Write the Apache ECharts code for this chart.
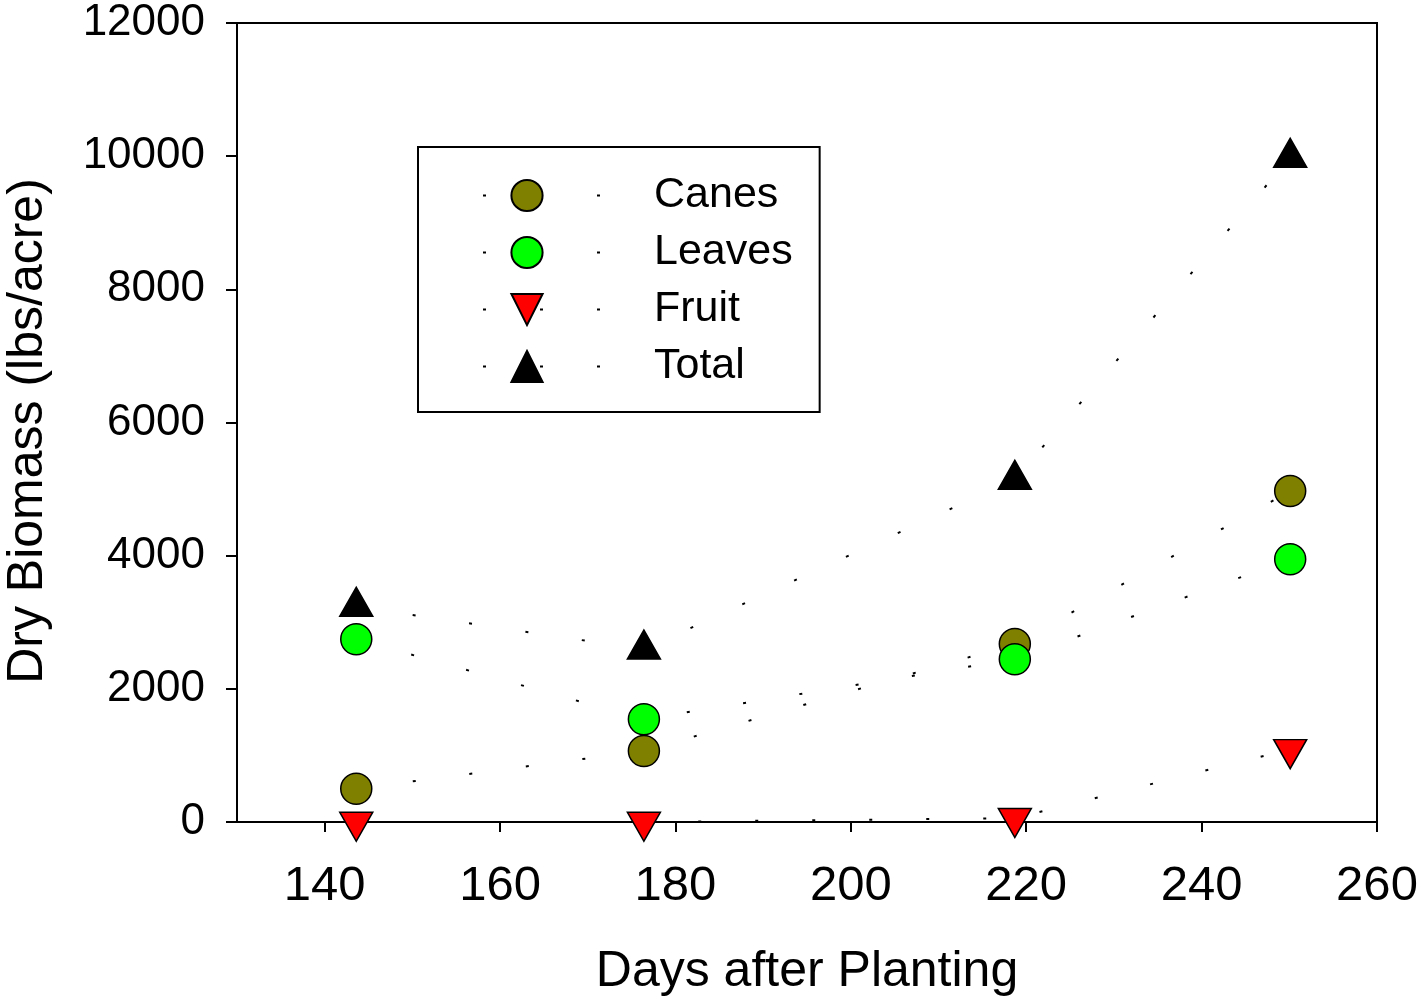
<!DOCTYPE html>
<html>
<head>
<meta charset="utf-8">
<script src="https://cdn.jsdelivr.net/npm/echarts@6/dist/echarts.min.js"></script>
<style>
  html, body { margin: 0; padding: 0; background: #fff; }
  #main { width: 1421px; height: 1005px; }
</style>
</head>
<body>
<div id="main"></div>
<script>
// values
var days = [143.6, 176.4, 218.7, 250.1]
var canes = [500, 1066, 2673, 4971]
var leaves = [2744, 1543, 2444, 3946]
var fruit = [0, 0, 57, 1092]
var total = [3235, 2593, 5143, 9978]
var xTicks = [140, 160, 180, 200, 220, 240, 260]

var font = 'Liberation Sans, Arial, sans-serif'

function pairs (ys) {
  return days.map(function (d, i) { return [d, ys[i]] })
}

function makeSeries (name, ys, symbol, size, color, offset) {
  return {
    name: name,
    type: 'line',
    data: pairs(ys),
    symbol: symbol,
    symbolSize: size,
    symbolOffset: offset || [0, 0],
    showAllSymbol: true,
    lineStyle: { color: '#000', width: 2, type: [3, 54] },
    itemStyle: { color: color, borderColor: '#000', borderWidth: 1.5 },
    emphasis: { disabled: true },
    z: 3
  }
}

var option = {
  animation: false,
  backgroundColor: '#fff',
  grid: {
    left: 237, right: 44, top: 23, bottom: 183,
    outerBoundsMode: 'none',
    show: true, borderColor: '#000', borderWidth: 2
  },
  legend: {
    orient: 'vertical',
    left: 418,
    top: 147,
    padding: [24, 27, 21, 35],
    itemWidth: 146,
    itemHeight: 39,
    itemGap: 8,
    borderColor: '#000',
    borderWidth: 2,
    selectedMode: false,
    lineStyle: { dashOffset: 28 },
    textStyle: { fontFamily: font, fontSize: 43, lineHeight: 43, color: '#000', padding: [6, 0, 0, 49] },
    data: ['Canes', 'Leaves', 'Fruit', 'Total']
  },
  xAxis: {
    type: 'value',
    min: 130,
    max: 260,
    name: 'Days after Planting',
    nameLocation: 'middle',
    nameGap: 125,
    nameTextStyle: { fontFamily: font, fontSize: 50, color: '#000' },
    axisLine: { lineStyle: { color: '#000', width: 2 } },
    axisTick: { customValues: xTicks, length: 10, lineStyle: { color: '#000', width: 2 } },
    axisLabel: { customValues: xTicks, margin: 40, fontFamily: font, fontSize: 49, color: '#000' },
    splitLine: { show: false }
  },
  yAxis: {
    type: 'value',
    min: 0,
    max: 12000,
    interval: 2000,
    name: 'Dry Biomass (lbs/acre)',
    nameLocation: 'middle',
    nameGap: 184,
    nameTextStyle: { fontFamily: font, fontSize: 50, color: '#000', padding: [0, 17, 0, 0] },
    axisLine: { show: true, lineStyle: { color: '#000', width: 2 } },
    axisTick: { show: true, length: 11, lineStyle: { color: '#000', width: 2 } },
    axisLabel: {
      margin: 32, fontFamily: font, fontSize: 44, color: '#000',
      formatter: function (v) { return String(v) }
    },
    splitLine: { show: false }
  },
  series: [
    makeSeries('Canes', canes, 'circle', 31, '#808000'),
    makeSeries('Leaves', leaves, 'circle', 31, '#00ff00'),
    makeSeries('Fruit', fruit, 'path://M0,0L2,0L1,1.75Z', [33, 29], '#ff0000', [0, 4.8]),
    makeSeries('Total', total, 'triangle', [33, 29], '#000000', [0, -4.8])
  ]
}

var myChart = echarts.init(document.getElementById('main'))
myChart.setOption(option)
</script>
</body>
</html>
